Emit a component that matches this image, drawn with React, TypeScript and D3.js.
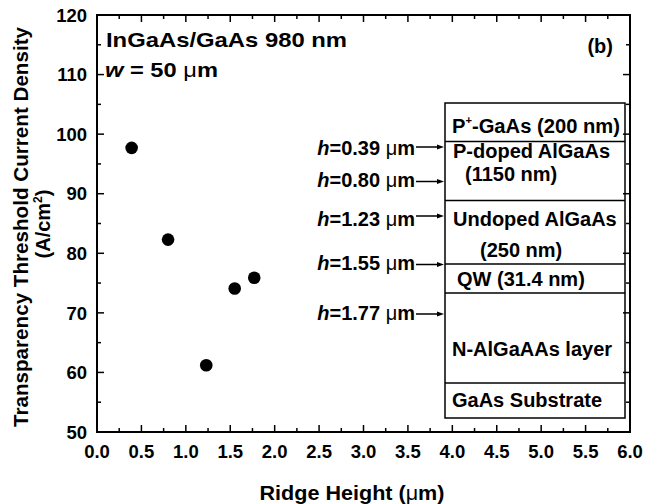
import React from 'react';
import * as d3 from 'd3';

// ---- data ----
const ridgeHeight = [0.39, 0.80, 1.23, 1.55, 1.77];
const thresholdDensity = [97.7, 82.3, 61.2, 74.1, 75.9];
const xTickValues = [0, 0.5, 1, 1.5, 2, 2.5, 3, 3.5, 4, 4.5, 5, 5.5, 6];
const yTickValues = [50, 60, 70, 80, 90, 100, 110, 120];
const hLabels = ['0.39', '0.80', '1.23', '1.55', '1.77'];
const layerNames = [
  ['P+-GaAs (200 nm)'],
  ['P-doped AlGaAs', '(1150 nm)'],
  ['Undoped AlGaAs', '(250 nm)'],
  ['QW (31.4 nm)'],
  ['N-AlGaAAs layer'],
  ['GaAs Substrate'],
];

// ---- layout ----
const W = 650, H = 504;
const M = { left: 97, right: 630, top: 15, bottom: 432 };
const FONT = '"Liberation Sans", Arial, Helvetica, sans-serif';
const boxX0 = 445, boxX1 = 625;
const layerEdges = [103, 141.5, 200.5, 264, 293, 383, 418];
const layerTextBaselines = [[133], [158, 181], [226, 257], [286], [356], [407]];
const layerTextX = [[452], [453], [453], [457], [452], [452]];
const layerTextX2 = [null, 465, 480, null, null, null];
const hLabelBaselines = [155, 187, 226, 270, 320];
const hArrowY = [147, 181.5, 216, 264.5, 314];

export default function App() {
  const x = d3.scaleLinear().domain([0, 6]).range([M.left, M.right]);
  const y = d3.scaleLinear().domain([50, 120]).range([M.bottom, M.top]);

  const xMinor = d3.range(0, 6.001, 0.25);
  const yMinor = d3.range(50, 120.001, 5);
  const isMajorX = (v: number) => Math.abs(v * 2 - Math.round(v * 2)) < 1e-6;
  const isMajorY = (v: number) => Math.abs(v / 10 - Math.round(v / 10)) < 1e-6;

  const mu = (
    <tspan fontWeight="normal">μ</tspan>
  );

  return (
    <svg
      width={W}
      height={H}
      style={{ position: 'absolute', left: 0, top: 0, background: '#fff' }}
      fontFamily={FONT}
      fontWeight="bold"
    >
      <rect x={0} y={0} width={W} height={H} fill="#fff" />
      {/* ticks */}
      {xMinor.map((v, i) => {
        const len = isMajorX(v) ? 7 : 4;
        return (
          <g key={'xt' + i} stroke="#000" strokeWidth={1.5}>
            <line x1={x(v)} x2={x(v)} y1={M.bottom} y2={M.bottom - len} />
            <line x1={x(v)} x2={x(v)} y1={M.top} y2={M.top + len} />
          </g>
        );
      })}
      {yMinor.map((v, i) => {
        const len = isMajorY(v) ? 7 : 4;
        return (
          <g key={'yt' + i} stroke="#000" strokeWidth={1.5}>
            <line x1={M.left} x2={M.left + len} y1={y(v)} y2={y(v)} />
            <line x1={M.right} x2={M.right - len} y1={y(v)} y2={y(v)} />
          </g>
        );
      })}
      {/* frame */}
      <rect
        x={M.left}
        y={M.top}
        width={M.right - M.left}
        height={M.bottom - M.top}
        fill="none"
        stroke="#000"
        strokeWidth={2}
      />
      {/* tick labels */}
      {xTickValues.map((v) => (
        <text key={'xl' + v} x={x(v)} y={458} textAnchor="middle" fontSize={18.5}>
          {d3.format('.1f')(v)}
        </text>
      ))}
      {yTickValues.map((v) => (
        <text key={'yl' + v} x={87} y={y(v)} dy="0.36em" textAnchor="end" fontSize={18.5}>
          {v}
        </text>
      ))}
      {/* axis titles */}
      <text x={352} y={500} textAnchor="middle" fontSize={20} textLength={185} lengthAdjust="spacingAndGlyphs">
        Ridge Height ({mu}m)
      </text>
      <text
        transform="translate(28,227) rotate(-90)"
        textAnchor="middle"
        fontSize={20}
        textLength={400}
        lengthAdjust="spacingAndGlyphs"
      >
        Transparency Threshold Current Density
      </text>
      <text transform="translate(50,224) rotate(-90)" textAnchor="middle" fontSize={20}>
        (A/cm<tspan dy={-8} fontSize={12}>2</tspan><tspan dy={8}>)</tspan>
      </text>
      {/* annotations */}
      <text x={106} y={47} fontSize={21} textLength={241} lengthAdjust="spacingAndGlyphs">
        InGaAs/GaAs 980 nm
      </text>
      <text x={105} y={77} fontSize={21} textLength={113} lengthAdjust="spacingAndGlyphs">
        <tspan fontStyle="italic">w</tspan> = 50 {mu}m
      </text>
      <text x={613} y={53} textAnchor="end" fontSize={20}>
        (b)
      </text>
      {/* layer stack */}
      <g stroke="#000" strokeWidth={1.5} fill="none">
        <rect x={boxX0} y={layerEdges[0]} width={boxX1 - boxX0} height={layerEdges[6] - layerEdges[0]} />
        {layerEdges.slice(1, 6).map((e, i) => (
          <line key={'le' + i} x1={boxX0} x2={boxX1} y1={e} y2={e} />
        ))}
      </g>
      {layerNames.map((lines, i) =>
        lines.map((t, j) => {
          const xx = j === 0 ? layerTextX[i][0] : (layerTextX2[i] as number);
          if (t.startsWith('P+')) {
            return (
              <text key={'ln' + i + j} x={xx} y={layerTextBaselines[i][j]} fontSize={20} textLength={168} lengthAdjust="spacingAndGlyphs">
                P<tspan dy={-9} fontSize={11}>+</tspan>
                <tspan dy={9}>{t.slice(2)}</tspan>
              </text>
            );
          }
          return (
            <text key={'ln' + i + j} x={xx} y={layerTextBaselines[i][j]} fontSize={20}>
              {t}
            </text>
          );
        })
      )}
      {/* h labels with arrows */}
      {hLabels.map((h, i) => (
        <g key={'h' + i}>
          <text x={415} y={hLabelBaselines[i]} textAnchor="end" fontSize={20}>
            <tspan fontStyle="italic">h</tspan>={h} {mu}m
          </text>
          <line x1={416} x2={438} y1={hArrowY[i]} y2={hArrowY[i]} stroke="#000" strokeWidth={1.5} />
          <path
            d={`M${444},${hArrowY[i]} L${437},${hArrowY[i] - 2.5} L${437},${hArrowY[i] + 2.5} Z`}
            fill="#000"
          />
        </g>
      ))}
      {/* data points */}
      {ridgeHeight.map((v, i) => (
        <circle key={'pt' + i} cx={x(v)} cy={y(thresholdDensity[i])} r={6.3} fill="#000" />
      ))}
    </svg>
  );
}
